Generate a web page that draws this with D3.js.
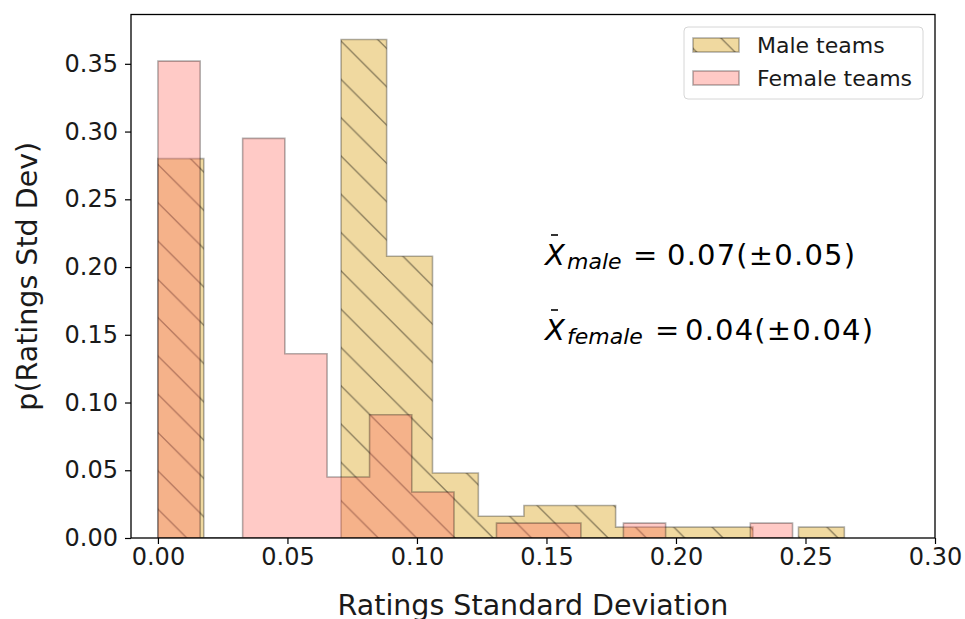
<!DOCTYPE html>
<html>
<head>
<meta charset="utf-8">
<script src="https://cdn.jsdelivr.net/npm/d3@7"></script>
<style>
  body { margin: 0; background: #fff; }
  svg { font-family: "DejaVu Sans", sans-serif; }
</style>
</head>
<body>
<div id="chart"></div>
<script>
// Histogram bin edges
const maleEdges = [0, 0.0177, 0.0353, 0.053, 0.0707, 0.0883, 0.106, 0.1237, 0.1413, 0.159, 0.1767, 0.1943, 0.212, 0.2297, 0.2473, 0.265];
const femaleEdges = [0, 0.0163, 0.0327, 0.049, 0.0653, 0.0817, 0.098, 0.1143, 0.1307, 0.147, 0.1633, 0.1797, 0.196, 0.2123, 0.2287, 0.245];

// Bin heights (fraction of teams)
const maleValues = [0.28, 0, 0, 0, 0.368, 0.208, 0.048, 0.016, 0.024, 0.024, 0.008, 0.008, 0.008, 0, 0.008];
const femaleValues = [0.352, 0, 0.295, 0.136, 0.045, 0.091, 0.034, 0, 0.011, 0.011, 0, 0.011, 0, 0, 0.011];

const seriesNames = ["Male teams", "Female teams"];
const xTicks = [0, 0.05, 0.10, 0.15, 0.20, 0.25, 0.30];
const yTicks = [0, 0.05, 0.10, 0.15, 0.20, 0.25, 0.30, 0.35];

const width = 965, height = 619;
const margin = { top: 14.5, right: 30, bottom: 81, left: 131 };

const svg = d3.select("#chart")
    .append("svg")
    .attr("width", width)
    .attr("height", height);

const x = d3.scaleLinear()
    .domain([-0.0104, 0.30])
    .range([margin.left, width - margin.right]);

const y = d3.scaleLinear()
    .domain([0, 0.3864])
    .range([height - margin.bottom, margin.top]);

// global hatch (aligned to the page like matplotlib's)
const defs = svg.append("defs");
const hatch = defs.append("pattern")
    .attr("id", "hatch")
    .attr("patternUnits", "userSpaceOnUse")
    .attr("width", 38.3)
    .attr("height", 38.3);
hatch.append("path")
    .attr("d", "M-3,3.5 L38,44.5 M29.8,-2 L42,10.2")
    .style("stroke", "rgba(0,0,0,0.45)")
    .style("stroke-width", 1.3)
    .style("fill", "none");

defs.append("clipPath").attr("id", "plotClip")
    .append("rect")
    .attr("x", margin.left)
    .attr("y", margin.top)
    .attr("width", width - margin.left - margin.right)
    .attr("height", height - margin.top - margin.bottom);

function stepPoints(edges, values) {
    const pts = values.map((v, i) => ({ x: edges[i], y: v }));
    pts.push({ x: edges[edges.length - 1], y: values[values.length - 1] });
    return pts;
}

const area = d3.area()
    .curve(d3.curveStepAfter)
    .x(d => x(d.x))
    .y0(y(0))
    .y1(d => y(d.y));

const plot = svg.append("g").attr("clip-path", "url(#plotClip)");

// Male (stepfilled + hatch)
const malePts = stepPoints(maleEdges, maleValues);
plot.append("path")
    .datum(malePts)
    .attr("d", area)
    .style("fill", "rgb(240,217,160)");
plot.append("path")
    .datum(malePts)
    .attr("d", area)
    .style("fill", "url(#hatch)")
    .style("stroke", "rgba(0,0,0,0.3)")
    .style("stroke-width", 1.6);

// Female (stepfilled, translucent)
const femalePts = stepPoints(femaleEdges, femaleValues);
plot.append("path")
    .datum(femalePts)
    .attr("d", area)
    .style("fill", "rgba(255,110,100,0.37)")
    .style("stroke", "rgba(0,0,0,0.3)")
    .style("stroke-width", 1.6);

// Axes
const xAxis = svg.append("g")
    .attr("transform", `translate(0,${y(0)})`)
    .call(d3.axisBottom(x).tickValues(xTicks).tickFormat(d3.format(".2f")).tickSize(6).tickPadding(4));

const yAxis = svg.append("g")
    .attr("transform", `translate(${margin.left},0)`)
    .call(d3.axisLeft(y).tickValues(yTicks).tickFormat(d3.format(".2f")).tickSize(6).tickPadding(7));

[xAxis, yAxis].forEach(g => {
    g.select(".domain").remove();
    g.selectAll(".tick line").style("stroke", "#000").style("stroke-width", 1.2);
    g.selectAll(".tick text")
        .style("font-family", "DejaVu Sans")
        .style("font-size", "24px")
        .style("fill", "#1a1a1a");
});

// Frame
svg.append("rect")
    .attr("x", margin.left)
    .attr("y", margin.top)
    .attr("width", width - margin.left - margin.right)
    .attr("height", height - margin.top - margin.bottom)
    .style("fill", "none")
    .style("stroke", "#000")
    .style("stroke-width", 1.3);

// Axis labels
svg.append("text")
    .attr("x", (margin.left + width - margin.right) / 2)
    .attr("y", 615)
    .attr("text-anchor", "middle")
    .style("font-size", "28.5px")
    .style("fill", "#1a1a1a")
    .text("Ratings Standard Deviation");

svg.append("text")
    .attr("transform", `translate(37,${(margin.top + height - margin.bottom) / 2}) rotate(-90)`)
    .attr("text-anchor", "middle")
    .style("font-size", "28.5px")
    .style("fill", "#1a1a1a")
    .text("p(Ratings Std Dev)");

// Legend
const legend = svg.append("g");
legend.append("rect")
    .attr("x", 684).attr("y", 27)
    .attr("width", 239).attr("height", 72)
    .attr("rx", 4)
    .style("fill", "rgba(255,255,255,0.8)")
    .style("stroke", "#d6d6d6")
    .style("stroke-width", 1);

const legendFills = [["rgb(240,217,160)", "url(#hatch)"], ["rgba(255,110,100,0.37)", null]];
seriesNames.forEach((name, i) => {
    const ly = 38 + i * 33;
    legend.append("rect")
        .attr("x", 693).attr("y", ly)
        .attr("width", 46).attr("height", 14)
        .style("fill", legendFills[i][0]);
    legend.append("rect")
        .attr("x", 693).attr("y", ly)
        .attr("width", 46).attr("height", 14)
        .style("fill", legendFills[i][1] || "none")
        .style("stroke", "rgba(0,0,0,0.3)")
        .style("stroke-width", 1.6);
    legend.append("text")
        .attr("x", 757).attr("y", ly + 15)
        .style("font-size", "22px")
        .style("fill", "#1a1a1a")
        .text(name);
});

// Mean annotations
const notes = [
    { sub: "male", value: "0.07(±0.05)", base: 265, eqX: 633, valX: 667 },
    { sub: "female", value: "0.04(±0.04)", base: 340, eqX: 655, valX: 685 }
];
notes.forEach(n => {
    // bar accent over the X
    svg.append("line")
        .attr("x1", 551).attr("x2", 558)
        .attr("y1", n.base - 30).attr("y2", n.base - 30)
        .style("stroke", "#000")
        .style("stroke-width", 1.6);
    const t = svg.append("text")
        .attr("y", n.base)
        .style("font-size", "29px")
        .style("fill", "#000");
    t.append("tspan").attr("x", 545).style("font-style", "italic").text("X");
    t.append("tspan").attr("x", 567).attr("dy", 4).style("font-style", "italic").style("font-size", "22px").text(n.sub);
    t.append("tspan").attr("x", n.eqX).attr("dy", -4).text("=");
    t.append("tspan").attr("x", n.valX)
        .attr("textLength", 188).attr("lengthAdjust", "spacing")
        .text(n.value);
});
</script>
</body>
</html>
